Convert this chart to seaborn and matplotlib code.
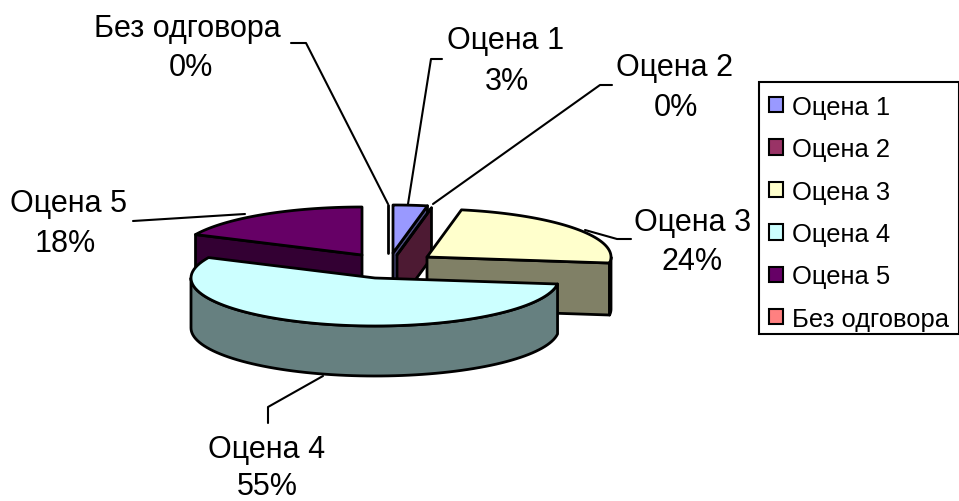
"""3D-look exploded pie of grades, axes run in image pixels."""
import numpy as np
import matplotlib
matplotlib.use("Agg")
import matplotlib.pyplot as plt
from matplotlib.patches import Patch, Rectangle
import seaborn as sns

categories = ["Оцена 1", "Оцена 2", "Оцена 3", "Оцена 4", "Оцена 5", "Без одговора"]
shares = [3, 0, 24, 55, 18, 0]
top_colors = ["#9999FF", "#993366", "#FFFFCC", "#CCFFFF", "#660066", "#FF8080"]

sns.set_theme(style="white")
plt.rcParams["font.family"] = ["Liberation Sans", "DejaVu Sans"]

# layout of the exploded slices
RX, RY = 184, 48
DEPTH = [50, 50, 52, 50, 50, 50]
APEX = [(393, 254), (397, 256), (427, 258), (375, 279), (362, 256), (388, 254)]
DRAW_ORDER = [5, 0, 1, 4, 2, 3]
LW = 2.0

fig, ax = plt.subplots(figsize=(9.59, 5.02), dpi=100)
ax.set_position([0, 0, 1, 1])
ax.set_xlim(0, 959)
ax.set_ylim(502, 0)
ax.axis("off")

edges = np.cumsum([0] + shares) * 3.6


def rim(cx, cy, deg):
    r = np.radians(deg)
    return cx + RX * np.sin(r), cy - RY * np.cos(r)


def poly(xs, ys, color, z):
    ax.fill(xs, ys, facecolor=color, edgecolor="black", lw=LW, joinstyle="round", zorder=z)


z = 2
for i in DRAW_ORDER:
    a0, a1 = edges[i], edges[i + 1]
    cx, cy = APEX[i]
    d = DEPTH[i]
    col = top_colors[i]
    side = tuple(c * 0.5 for c in matplotlib.colors.to_rgb(col))

    # cut faces that look towards the viewer
    if a1 < 180:
        ex, ey = rim(cx, cy, a1)
        poly([cx, ex, ex, cx], [cy, ey, ey + d, cy + d], side, z)
    if 180 < a0 < 360:
        ex, ey = rim(cx, cy, a0)
        poly([cx, ex, ex, cx], [cy, ey, ey + d, cy + d], side, z)

    # outer wall, only the front half of the ellipse shows
    lo, hi = max(a0, 90), min(a1, 270)
    if hi > lo:
        th = np.linspace(lo, hi, 80)
        wx, wy = rim(cx, cy, th)
        poly(np.r_[wx, wx[::-1]], np.r_[wy, wy[::-1] + d], side, z)

    # top face
    if a1 > a0:
        th = np.linspace(a0, a1, 80)
        tx, ty = rim(cx, cy, th)
        poly(np.r_[cx, tx], np.r_[cy, ty], col, z)
    else:
        ex, ey = rim(cx, cy, a0)
        ax.plot([cx, ex], [cy, ey], color="black", lw=LW, zorder=z)
    z += 1

# leader lines
leaders = [
    ([388, 306, 291], [205, 44, 44]),
    ([408, 431, 442], [205, 60, 60]),
    ([433, 600, 612], [205, 86, 86]),
    ([585, 617, 631], [231, 240, 240]),
    ([323, 268, 268], [377, 408, 424]),
    ([245, 133], [215, 222]),
]
for lx, ly in leaders:
    ax.plot(lx, ly, color="black", lw=1.5, zorder=1)

# data labels
label_pos = [(506, 41, 507, 82), (675, 68, 676, 108), (693, 223, 692, 262),
             (267, 450, 267, 487), (69, 204, 65, 244), (187, 29, 191, 68)]
for name, val, (x1, y1, x2, y2) in zip(categories, shares, label_pos):
    ax.text(x1, y1, name, fontsize=22, ha="center", va="center", color="black", zorder=20)
    ax.text(x2, y2, f"{val}%", fontsize=22, ha="center", va="center", color="black", zorder=20)

ax.add_patch(Rectangle((759, 83), 200, 252, facecolor="white", edgecolor="black", lw=1.5, zorder=24))
handles = [Patch(facecolor=c, edgecolor="black", lw=1.5, label=n)
           for c, n in zip(top_colors, categories)]
leg = ax.legend(handles=handles, loc="upper left", bbox_to_anchor=(756 / 959, 1 - 83 / 502),
                bbox_transform=ax.transAxes, fontsize=18.4, frameon=False,
                labelcolor="black", handlelength=0.55, handleheight=0.55,
                handletextpad=0.36, labelspacing=0.72, borderaxespad=0, borderpad=0.5)
leg.set_zorder(25)

fig.savefig("out.png", dpi=100)
